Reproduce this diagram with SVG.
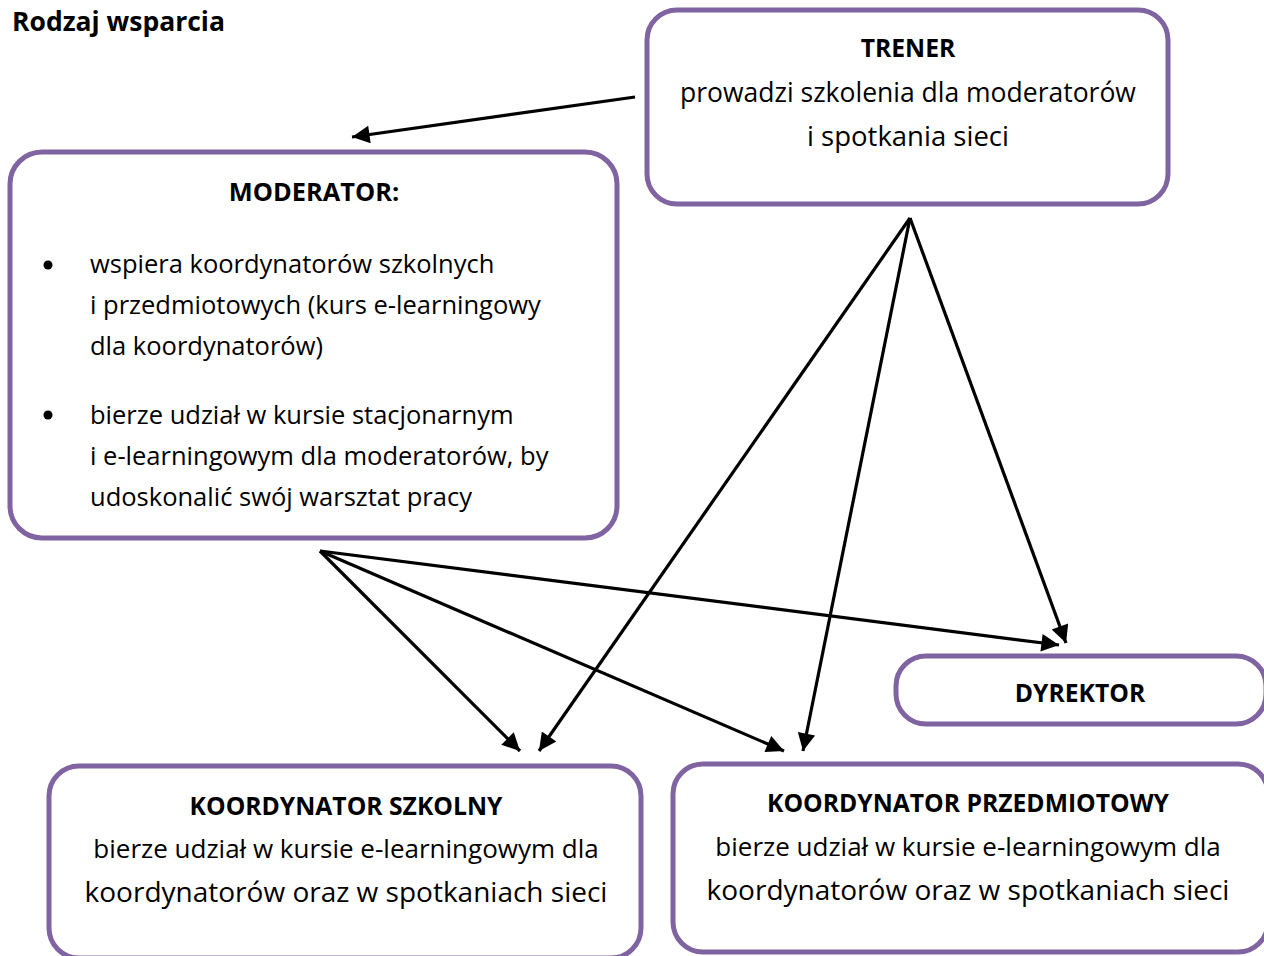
<svg xmlns="http://www.w3.org/2000/svg" width="1264" height="956" viewBox="0 0 1264 956">
<style>
.box{fill:#fff;stroke:#8064A2;stroke-width:5}
.t{font-family:"Open Sans","Noto Sans",sans-serif;font-size:25.5px;fill:#000}
.b{font-family:"Open Sans","Noto Sans",sans-serif;font-size:24.7px;font-weight:bold;fill:#000}
.c{text-anchor:middle}
.ln{stroke:#000;stroke-width:3.2;fill:none;marker-end:url(#ah)}
</style>
<defs>
<marker id="ah" viewBox="0 0 10 10" refX="10" refY="5" markerWidth="7.5" markerHeight="5.5" orient="auto" markerUnits="strokeWidth">
<path d="M0,0 L10,5 L0,10 z" fill="#000"/>
</marker>
</defs>
<rect width="1264" height="956" fill="#fff"/>
<text x="12" y="31" class="b" style="font-size:26.5px">Rodzaj wsparcia</text>

<g id="trener">
<rect class="box" x="647" y="10" width="521" height="194" rx="30"/>
<text x="908" y="57" class="b c">TRENER</text>
<text x="908" y="102" class="t c" style="font-size:26.5px">prowadzi szkolenia dla moderatorów</text>
<text x="908" y="146" class="t c" style="font-size:27.5px">i spotkania sieci</text>
</g>

<g id="moderator">
<rect class="box" x="10" y="152" width="607" height="386" rx="32"/>
<text x="314" y="201" class="b c" style="font-size:25.4px">MODERATOR:</text>
<circle cx="48" cy="265" r="4.5" fill="#000"/>
<circle cx="48" cy="415" r="4.5" fill="#000"/>
<text x="90" y="273" class="t">wspiera koordynatorów szkolnych</text>
<text x="90" y="314" class="t">i przedmiotowych (kurs e-learningowy</text>
<text x="90" y="355" class="t">dla koordynatorów)</text>
<text x="90" y="424" class="t">bierze udział w kursie stacjonarnym</text>
<text x="90" y="465" class="t">i e-learningowym dla moderatorów, by</text>
<text x="90" y="506" class="t">udoskonalić swój warsztat pracy</text>
</g>

<g id="dyrektor">
<rect class="box" x="896" y="656" width="370" height="68" rx="30"/>
<text x="1080" y="702" class="b c">DYREKTOR</text>
</g>

<g id="koordynator-szkolny">
<rect class="box" x="49" y="766" width="592" height="192" rx="30"/>
<text x="346" y="815" class="b c">KOORDYNATOR SZKOLNY</text>
<text x="346" y="858" class="t c" style="font-size:26px">bierze udział w kursie e-learningowym dla</text>
<text x="346" y="902" class="t c" style="font-size:28px">koordynatorów oraz w spotkaniach sieci</text>
</g>

<g id="koordynator-przedmiotowy">
<rect class="box" x="673" y="764" width="595" height="188" rx="30"/>
<text x="968" y="812" class="b c">KOORDYNATOR PRZEDMIOTOWY</text>
<text x="968" y="856" class="t c" style="font-size:26px">bierze udział w kursie e-learningowym dla</text>
<text x="968" y="900" class="t c" style="font-size:28px">koordynatorów oraz w spotkaniach sieci</text>
</g>

<g id="connectors">
<line class="ln" x1="635" y1="97" x2="352" y2="137"/>
<line class="ln" x1="910" y1="218" x2="539" y2="751"/>
<line class="ln" x1="910" y1="218" x2="803" y2="751"/>
<line class="ln" x1="910" y1="218" x2="1066" y2="643"/>
<line class="ln" x1="320" y1="551" x2="520" y2="751"/>
<line class="ln" x1="320" y1="551" x2="784" y2="751"/>
<line class="ln" x1="320" y1="551" x2="1059" y2="645"/>
</g>
</svg>
